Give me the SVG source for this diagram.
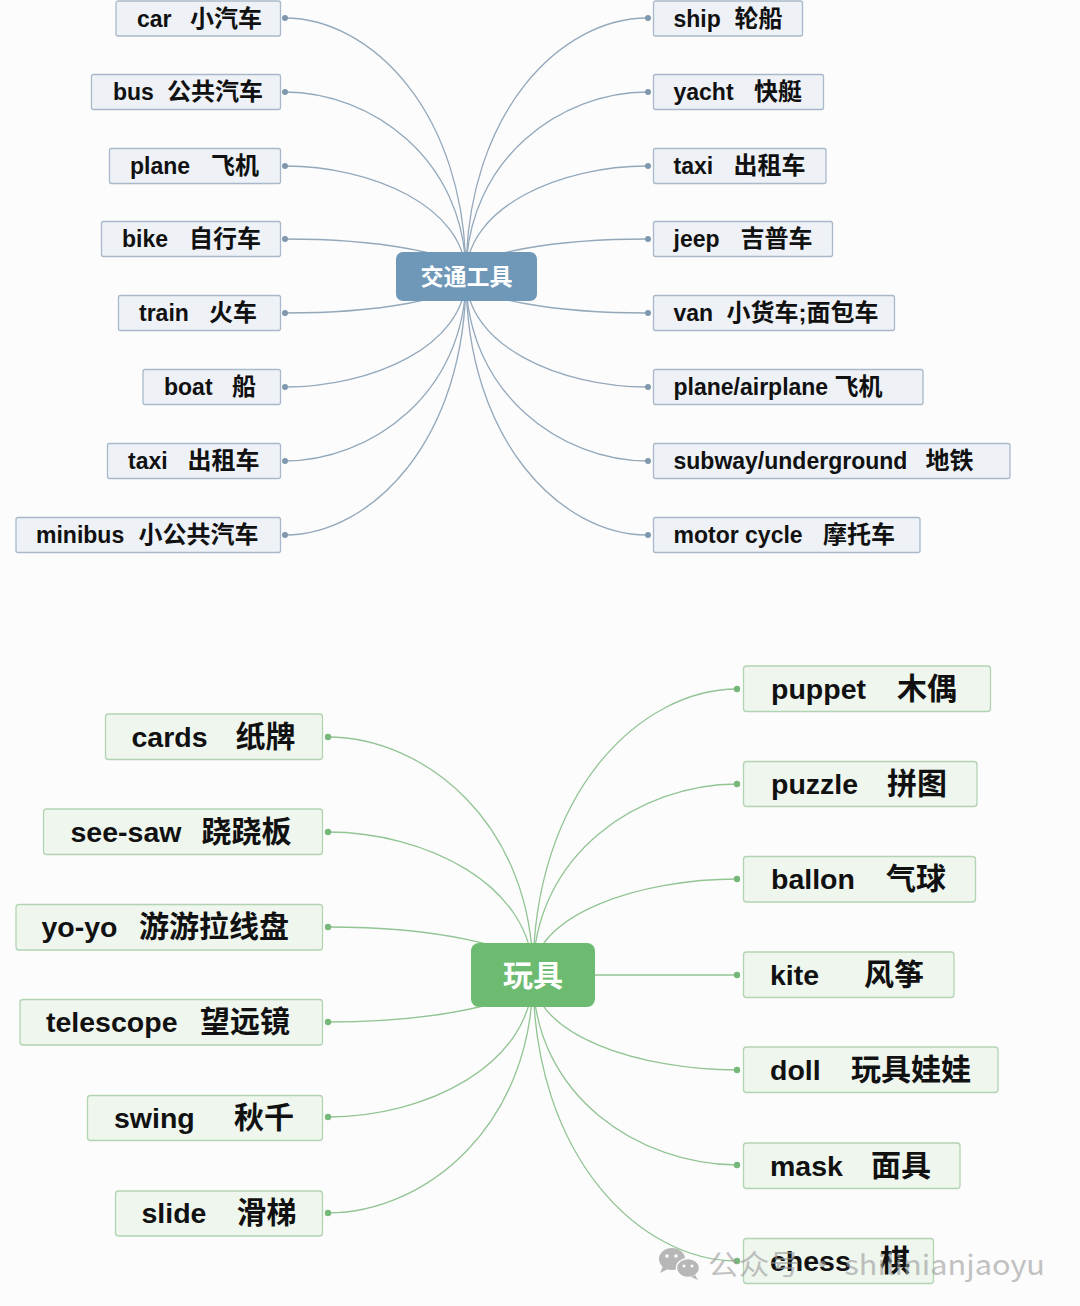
<svg xmlns="http://www.w3.org/2000/svg" width="1080" height="1306" viewBox="0 0 1080 1306">
<style>
text{font-family:"Liberation Sans","Noto Sans CJK SC",sans-serif;font-weight:bold;fill:#111}
.t{font-size:23px}
.t .c{font-size:24px}
.g{font-size:28.5px}
.g .c{font-size:30px}
.bx{fill:#eef2f7;stroke:#a9b9c9;stroke-width:1.3}
.gx{fill:#eef6ee;stroke:#b3d4b3;stroke-width:1.3}
.lb{fill:none;stroke:#93a8ba;stroke-width:1.3}
.lg{fill:none;stroke:#92c494;stroke-width:1.3}
.db{fill:#7f98ad}
.dg{fill:#76b879}
.ctr{fill:#fff;font-family:"Noto Sans CJK SC",sans-serif;font-weight:bold;text-anchor:middle}
.wm{font-family:"Noto Sans CJK SC","Liberation Sans",sans-serif;font-weight:normal;fill:#9a9a9a;font-size:28px}
</style>
<rect width="1080" height="1306" fill="#fcfcfc"/>
<g id="connectors">
<path class="lb" d="M466,276 C466,111 370,18 285,18"/>
<path class="lb" d="M466,276 C466,158 370,92 285,92"/>
<path class="lb" d="M466,276 C466,206 370,166 285,166"/>
<path class="lb" d="M466,276 C466,252 370,239 285,239"/>
<path class="lb" d="M466,276 C466,300 370,313 285,313"/>
<path class="lb" d="M466,276 C466,347 370,387 285,387"/>
<path class="lb" d="M466,276 C466,394 370,461 285,461"/>
<path class="lb" d="M466,276 C466,442 370,535 285,535"/>
<path class="lb" d="M466,276 C466,111 562,18 647,18"/>
<path class="lb" d="M466,276 C466,158 562,92 647,92"/>
<path class="lb" d="M466,276 C466,206 562,166 647,166"/>
<path class="lb" d="M466,276 C466,252 562,239 647,239"/>
<path class="lb" d="M466,276 C466,300 562,313 647,313"/>
<path class="lb" d="M466,276 C466,347 562,387 647,387"/>
<path class="lb" d="M466,276 C466,394 562,461 647,461"/>
<path class="lb" d="M466,276 C466,442 562,535 647,535"/>
<g class="db">
<circle cx="285" cy="18" r="3"/><circle cx="285" cy="92" r="3"/><circle cx="285" cy="166" r="3"/><circle cx="285" cy="239" r="3"/>
<circle cx="285" cy="313" r="3"/><circle cx="285" cy="387" r="3"/><circle cx="285" cy="461" r="3"/><circle cx="285" cy="535" r="3"/>
<circle cx="648" cy="18" r="3"/><circle cx="648" cy="92" r="3"/><circle cx="648" cy="166" r="3"/><circle cx="648" cy="239" r="3"/>
<circle cx="648" cy="313" r="3"/><circle cx="648" cy="387" r="3"/><circle cx="648" cy="461" r="3"/><circle cx="648" cy="535" r="3"/>
</g>
<path class="lg" d="M533,975 C533,823 424,737 328,737"/>
<path class="lg" d="M533,975 C533,884 424,832 328,832"/>
<path class="lg" d="M533,975 C533,944 424,927 328,927"/>
<path class="lg" d="M533,975 C533,1005 424,1022 328,1022"/>
<path class="lg" d="M533,975 C533,1066 424,1117 328,1117"/>
<path class="lg" d="M533,975 C533,1127 424,1213 328,1213"/>
<path class="lg" d="M533,975 C533,792 641,689 737,689"/>
<path class="lg" d="M533,975 C533,853 641,784 737,784"/>
<path class="lg" d="M533,975 C533,914 641,879 737,879"/>
<path class="lg" d="M533,975 L737,975"/>
<path class="lg" d="M533,975 C533,1036 641,1070 737,1070"/>
<path class="lg" d="M533,975 C533,1097 641,1165 737,1165"/>
<path class="lg" d="M533,975 C533,1158 641,1261 737,1261"/>
<g class="dg">
<circle cx="328" cy="737" r="3.2"/><circle cx="328" cy="832" r="3.2"/><circle cx="328" cy="927" r="3.2"/>
<circle cx="328" cy="1022" r="3.2"/><circle cx="328" cy="1117" r="3.2"/><circle cx="328" cy="1213" r="3.2"/>
<circle cx="737" cy="689" r="3.2"/><circle cx="737" cy="784" r="3.2"/><circle cx="737" cy="879" r="3.2"/><circle cx="737" cy="975" r="3.2"/>
<circle cx="737" cy="1070" r="3.2"/><circle cx="737" cy="1165" r="3.2"/><circle cx="737" cy="1261" r="3.2"/>
</g>
</g>

<g id="center-transport">
<rect x="396" y="252" width="141" height="49" rx="7" fill="#6f98b8"/>
<text class="ctr" x="466.5" y="284.5" font-size="23">交通工具</text>
</g>

<g id="car"><rect class="bx" x="116" y="1" width="164.5" height="35" rx="2"/><text class="t" y="26.5"><tspan x="137">car </tspan><tspan class="c" x="190">小汽车</tspan></text></g>
<g id="bus"><rect class="bx" x="91.5" y="74.5" width="189" height="35" rx="2"/><text class="t" y="100"><tspan x="113">bus </tspan><tspan class="c" x="167">公共汽车</tspan></text></g>
<g id="plane"><rect class="bx" x="109.5" y="148.5" width="171" height="35" rx="2"/><text class="t" y="174"><tspan x="130">plane </tspan><tspan class="c" x="211">飞机</tspan></text></g>
<g id="bike"><rect class="bx" x="101.5" y="221.5" width="179" height="35" rx="2"/><text class="t" y="247"><tspan x="122">bike </tspan><tspan class="c" x="189">自行车</tspan></text></g>
<g id="train"><rect class="bx" x="118.5" y="295.5" width="162" height="35" rx="2"/><text class="t" y="321"><tspan x="139">train </tspan><tspan class="c" x="209">火车</tspan></text></g>
<g id="boat"><rect class="bx" x="143" y="369.5" width="137.5" height="35" rx="2"/><text class="t" y="395"><tspan x="164">boat </tspan><tspan class="c" x="232">船</tspan></text></g>
<g id="taxi-l"><rect class="bx" x="107.5" y="443.5" width="173" height="35" rx="2"/><text class="t" y="469"><tspan x="128">taxi </tspan><tspan class="c" x="187.5">出租车</tspan></text></g>
<g id="minibus"><rect class="bx" x="16" y="517.5" width="264.5" height="35" rx="2"/><text class="t" y="543"><tspan x="36">minibus </tspan><tspan class="c" x="138.5">小公共汽车</tspan></text></g>

<g id="ship"><rect class="bx" x="653.5" y="1" width="149" height="35" rx="2"/><text class="t" y="26.5"><tspan x="673.5">ship </tspan><tspan class="c" x="734.5">轮船</tspan></text></g>
<g id="yacht"><rect class="bx" x="653.5" y="74.5" width="170" height="35" rx="2"/><text class="t" y="100"><tspan x="673.5">yacht </tspan><tspan class="c" x="754">快艇</tspan></text></g>
<g id="taxi-r"><rect class="bx" x="653.5" y="148.5" width="172.5" height="35" rx="2"/><text class="t" y="174"><tspan x="673.5">taxi </tspan><tspan class="c" x="733.5">出租车</tspan></text></g>
<g id="jeep"><rect class="bx" x="653.5" y="221.5" width="179" height="35" rx="2"/><text class="t" y="247"><tspan x="673.5">jeep </tspan><tspan class="c" x="740.5">吉普车</tspan></text></g>
<g id="van"><rect class="bx" x="653.5" y="295.5" width="241" height="35" rx="2"/><text class="t" y="321"><tspan x="673.5">van </tspan><tspan class="c" x="726.5">小货车;面包车</tspan></text></g>
<g id="airplane"><rect class="bx" x="653.5" y="369.5" width="269.5" height="35" rx="2"/><text class="t" y="395"><tspan x="673.5">plane/airplane </tspan><tspan class="c" x="834.5">飞机</tspan></text></g>
<g id="subway"><rect class="bx" x="653.5" y="443.5" width="356.5" height="35" rx="2"/><text class="t" y="469"><tspan x="673.5">subway/underground </tspan><tspan class="c" x="925.5">地铁</tspan></text></g>
<g id="motorcycle"><rect class="bx" x="653.5" y="517.5" width="266.5" height="35" rx="2"/><text class="t" y="543"><tspan x="673.5">motor cycle </tspan><tspan class="c" x="823">摩托车</tspan></text></g>

<g id="center-toys">
<rect x="471" y="943" width="124" height="64" rx="8" fill="#6dbb70"/>
<text class="ctr" x="533" y="986" font-size="30">玩具</text>
</g>

<g id="cards"><rect class="gx" x="105.5" y="714" width="217" height="45.5" rx="3"/><text class="g" y="747"><tspan x="131.5">cards </tspan><tspan class="c" x="235.5">纸牌</tspan></text></g>
<g id="seesaw"><rect class="gx" x="43.5" y="809" width="279" height="45.5" rx="3"/><text class="g" y="842"><tspan x="70.5">see-saw </tspan><tspan class="c" x="201.5">跷跷板</tspan></text></g>
<g id="yoyo"><rect class="gx" x="16" y="904.5" width="306.5" height="45.5" rx="3"/><text class="g" y="937"><tspan x="41.5">yo-yo </tspan><tspan class="c" x="139">游游拉线盘</tspan></text></g>
<g id="telescope"><rect class="gx" x="20" y="999.5" width="302.5" height="45.5" rx="3"/><text class="g" y="1032"><tspan x="46">telescope </tspan><tspan class="c" x="200">望远镜</tspan></text></g>
<g id="swing"><rect class="gx" x="87.5" y="1095.5" width="235" height="45" rx="3"/><text class="g" y="1128"><tspan x="114">swing </tspan><tspan class="c" x="234">秋千</tspan></text></g>
<g id="slide"><rect class="gx" x="115.5" y="1191" width="207" height="45" rx="3"/><text class="g" y="1223"><tspan x="141.5">slide </tspan><tspan class="c" x="236.5">滑梯</tspan></text></g>

<g id="puppet"><rect class="gx" x="743.5" y="666" width="247" height="45.5" rx="3"/><text class="g" y="699"><tspan x="771">puppet </tspan><tspan class="c" x="897">木偶</tspan></text></g>
<g id="puzzle"><rect class="gx" x="743.5" y="761.5" width="233.5" height="45" rx="3"/><text class="g" y="794"><tspan x="771">puzzle </tspan><tspan class="c" x="887">拼图</tspan></text></g>
<g id="ballon"><rect class="gx" x="743.5" y="856.5" width="232" height="45.5" rx="3"/><text class="g" y="889"><tspan x="771">ballon </tspan><tspan class="c" x="886">气球</tspan></text></g>
<g id="kite"><rect class="gx" x="743.5" y="952" width="210.5" height="45.5" rx="3"/><text class="g" y="985"><tspan x="770">kite </tspan><tspan class="c" x="864">风筝</tspan></text></g>
<g id="doll"><rect class="gx" x="743.5" y="1047" width="254.5" height="45.5" rx="3"/><text class="g" y="1080"><tspan x="770">doll </tspan><tspan class="c" x="851">玩具娃娃</tspan></text></g>
<g id="mask"><rect class="gx" x="743.5" y="1143" width="216.5" height="45.5" rx="3"/><text class="g" y="1176"><tspan x="770">mask </tspan><tspan class="c" x="871">面具</tspan></text></g>
<g id="chess"><rect class="gx" x="743.5" y="1238.5" width="190" height="45" rx="3"/><text class="g" y="1271"><tspan x="770">chess </tspan><tspan class="c" x="880">棋</tspan></text></g>

<g id="watermark" opacity="0.6">
<ellipse cx="672" cy="1259" rx="13" ry="11" fill="#8a8a8a"/>
<path d="M663,1266 l-3,7 l8,-4 z" fill="#8a8a8a"/>
<ellipse cx="688" cy="1268" rx="11.5" ry="9.5" fill="#8a8a8a" stroke="#fcfcfc" stroke-width="1.5"/>
<path d="M695,1275 l3,5 l-7,-3 z" fill="#8a8a8a"/>
<circle cx="667" cy="1256" r="1.8" fill="#fcfcfc"/><circle cx="676" cy="1256" r="1.8" fill="#fcfcfc"/>
<circle cx="684" cy="1266" r="1.5" fill="#fcfcfc"/><circle cx="692" cy="1266" r="1.5" fill="#fcfcfc"/>
<text class="wm" x="708" y="1275" textLength="337" lengthAdjust="spacingAndGlyphs">公众号 · shilinianjaoyu</text>
</g>
</svg>
